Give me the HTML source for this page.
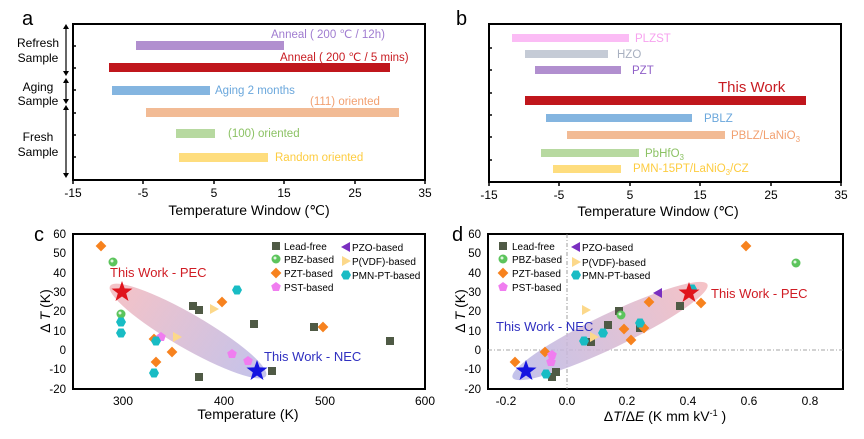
<!DOCTYPE html>
<html><head><meta charset="utf-8"><style>
body{margin:0;background:#fff}
svg{display:block;font-family:"Liberation Sans",Arial,sans-serif}
</style></head><body>
<svg width="864" height="439" viewBox="0 0 864 439" xmlns="http://www.w3.org/2000/svg">
<defs>
<linearGradient id="gc" x1="0" x2="1" y1="0" y2="0"><stop offset="0" stop-color="#f4b8bc"/><stop offset="1" stop-color="#b8b8e8"/></linearGradient>
<linearGradient id="gd" x1="0" x2="1" y1="0" y2="0"><stop offset="0" stop-color="#b8b8e8"/><stop offset="1" stop-color="#f4b8bc"/></linearGradient>
<g id="sq"><rect x="-4" y="-4" width="8" height="8" fill="#4f5a45"/></g>
<g id="ci"><circle r="4.5" fill="#5cc45c"/><circle r="1.5" cx="-1" cy="-1" fill="#dff5df"/></g>
<g id="di"><rect x="-3.8" y="-3.8" width="7.6" height="7.6" fill="#f7821e" transform="rotate(45)"/></g>
<g id="pe"><polygon points="0,-5 4.8,-1.5 3,4 -3,4 -4.8,-1.5" fill="#f07df0"/></g>
<g id="tl"><polygon points="-5,0 4,-5 4,5" fill="#7a2fc0"/></g>
<g id="tr"><polygon points="5,0 -4,-5 -4,5" fill="#fcd88a"/></g>
<g id="hx"><polygon points="-5,0 -2.5,-4.5 2.5,-4.5 5,0 2.5,4.5 -2.5,4.5" fill="#18bcc4"/></g>
<polygon id="st" points="0,-11 2.6,-3.6 10.5,-3.4 4.2,1.4 6.5,9 0,4.5 -6.5,9 -4.2,1.4 -10.5,-3.4 -2.6,-3.6"/>
</defs>

<!-- Panel a -->
<text x="22" y="25" font-size="20">a</text>
<rect x="73" y="24" width="352" height="156" fill="none" stroke="#000" stroke-width="2"/>
<g stroke="#000" stroke-width="1.2">
<line x1="66" y1="27" x2="66" y2="74"/><line x1="66" y1="80" x2="66" y2="102"/><line x1="66" y1="107" x2="66" y2="176"/>
</g>
<g fill="#000">
<polygon points="66,24 63,29 69,29"/><polygon points="66,76 63,71 69,71"/>
<polygon points="66,78 63,83 69,83"/><polygon points="66,104 63,99 69,99"/>
<polygon points="66,105 63,110 69,110"/><polygon points="66,178 63,173 69,173"/>
</g>
<g stroke="#000" stroke-width="1.5">
<line x1="73" y1="46" x2="76" y2="46"/><line x1="73" y1="68" x2="76" y2="68"/><line x1="73" y1="90" x2="76" y2="90"/><line x1="73" y1="113" x2="76" y2="113"/><line x1="73" y1="135" x2="76" y2="135"/><line x1="73" y1="157" x2="76" y2="157"/>
<line x1="73" y1="180" x2="73" y2="184"/><line x1="143" y1="180" x2="143" y2="184"/><line x1="214" y1="180" x2="214" y2="184"/><line x1="284" y1="180" x2="284" y2="184"/><line x1="355" y1="180" x2="355" y2="184"/><line x1="425" y1="180" x2="425" y2="184"/>
</g>
<g font-size="12" text-anchor="middle">
<text x="38" y="47">Refresh</text><text x="38" y="62">Sample</text>
<text x="38" y="91">Aging</text><text x="38" y="105">Sample</text>
<text x="38" y="141">Fresh</text><text x="38" y="156">Sample</text>
<text x="73" y="197">-15</text><text x="143" y="197">-5</text><text x="214" y="197">5</text><text x="284" y="197">15</text><text x="355" y="197">25</text><text x="425" y="197">35</text>
<text x="249" y="215" font-size="14">Temperature Window (℃)</text>
</g>
<rect x="136" y="41" width="148" height="9" fill="#b18fcf"/>
<rect x="109" y="63" width="281" height="9" fill="#c0161c"/>
<rect x="112" y="86" width="98" height="9" fill="#84b5e0"/>
<rect x="146" y="108" width="253" height="9" fill="#f2bb95"/>
<rect x="176" y="129" width="39" height="9" fill="#b7d9a0"/>
<rect x="179" y="153" width="89" height="9" fill="#fedd7e"/>
<g font-size="11.5">
<text x="271" y="38" fill="#a07cd0">Anneal ( 200 ℃ / 12h)</text>
<text x="280" y="61" fill="#c81c22">Anneal ( 200 ℃ / 5 mins)</text>
<text x="215" y="94" fill="#6aa7dc">Aging 2 months</text>
<text x="310" y="105" fill="#f2a070">(111) oriented</text>
<text x="228" y="137" fill="#8cc264">(100) oriented</text>
<text x="275" y="161" fill="#fdcc40">Random oriented</text>
</g>

<!-- Panel b -->
<text x="456" y="25" font-size="20">b</text>
<rect x="489" y="24" width="352" height="158" fill="none" stroke="#000" stroke-width="2"/>
<g stroke="#000" stroke-width="1.5">
<line x1="489" y1="48" x2="492" y2="48"/><line x1="489" y1="70" x2="492" y2="70"/><line x1="489" y1="93" x2="492" y2="93"/><line x1="489" y1="115" x2="492" y2="115"/><line x1="489" y1="137" x2="492" y2="137"/><line x1="489" y1="160" x2="492" y2="160"/>
<line x1="489" y1="182" x2="489" y2="186"/><line x1="559" y1="182" x2="559" y2="186"/><line x1="630" y1="182" x2="630" y2="186"/><line x1="700" y1="182" x2="700" y2="186"/><line x1="771" y1="182" x2="771" y2="186"/><line x1="841" y1="182" x2="841" y2="186"/>
</g>
<g font-size="12" text-anchor="middle">
<text x="489" y="199">-15</text><text x="559" y="199">-5</text><text x="630" y="199">5</text><text x="700" y="199">15</text><text x="771" y="199">25</text><text x="841" y="199">35</text>
<text x="658" y="216" font-size="14">Temperature Window (℃)</text>
</g>
<rect x="512" y="34" width="117" height="8" fill="#fbbcf5"/>
<rect x="525" y="50" width="83" height="8" fill="#c5cbd6"/>
<rect x="535" y="66" width="86" height="8" fill="#b18fcf"/>
<rect x="525" y="96" width="281" height="9" fill="#c0161c"/>
<rect x="546" y="114" width="146" height="8" fill="#84b5e0"/>
<rect x="567" y="131" width="158" height="8" fill="#f2bb95"/>
<rect x="541" y="149" width="98" height="8" fill="#b7d9a0"/>
<rect x="553" y="165" width="68" height="8" fill="#fedd7e"/>
<g font-size="11.5">
<text x="635" y="42" fill="#f7a2ef">PLZST</text>
<text x="617" y="58" fill="#a8b0c0">HZO</text>
<text x="632" y="74" fill="#9060c8">PZT</text>
<text x="718" y="92" fill="#c81c22" font-size="15">This Work</text>
<text x="704" y="122" fill="#6aa7dc">PBLZ</text>
<text x="731" y="139" fill="#f2a070">PBLZ/LaNiO<tspan font-size="8" dy="3">3</tspan></text>
<text x="645" y="157" fill="#8cc264">PbHfO<tspan font-size="8" dy="3">3</tspan></text>
<text x="633" y="172" fill="#fdcc40">PMN-15PT/LaNiO<tspan font-size="8" dy="3">3</tspan><tspan dy="-3">/CZ</tspan></text>
</g>

<!-- Panel c -->
<text x="34" y="241" font-size="20">c</text>
<rect x="73" y="234" width="352" height="155" fill="none" stroke="#000" stroke-width="2"/>
<g font-size="11.5" text-anchor="end">
<text x="66" y="238">60</text><text x="66" y="257">50</text><text x="66" y="277">40</text><text x="66" y="296">30</text><text x="66" y="315">20</text><text x="66" y="335">10</text><text x="66" y="354">0</text><text x="66" y="373">-10</text><text x="66" y="393">-20</text>
</g>
<g font-size="12" text-anchor="middle">
<text x="123" y="405">300</text><text x="224" y="405">400</text><text x="325" y="405">500</text><text x="425" y="405">600</text>
<text x="248" y="419" font-size="14">Temperature (K)</text>
<text transform="translate(50,311) rotate(-90)" font-size="14">Δ <tspan font-style="italic">T</tspan> (K)</text>
</g>
<ellipse cx="188" cy="331" rx="90" ry="17" transform="rotate(30 188 331)" fill="url(#gc)" opacity="0.85"/>
<use href="#sq" x="193" y="306"/><use href="#sq" x="199" y="310"/><use href="#sq" x="254" y="324"/><use href="#sq" x="314" y="327"/><use href="#sq" x="390" y="341"/><use href="#sq" x="272" y="371"/><use href="#sq" x="199" y="377"/>
<use href="#ci" x="113" y="262"/><use href="#ci" x="121" y="314"/>
<use href="#di" x="101" y="246"/><use href="#di" x="222" y="302"/><use href="#di" x="154" y="339"/><use href="#di" x="172" y="352"/><use href="#di" x="156" y="362"/><use href="#di" x="323" y="327"/>
<use href="#pe" x="161" y="337"/><use href="#pe" x="232" y="354"/><use href="#pe" x="248" y="361"/>
<use href="#tr" x="214" y="309"/><use href="#tr" x="177" y="337"/>
<use href="#hx" x="237" y="290"/><use href="#hx" x="121" y="322"/><use href="#hx" x="121" y="333"/><use href="#hx" x="156" y="341"/><use href="#hx" x="154" y="373"/>
<use href="#st" x="122" y="292" fill="#e0141c"/><use href="#st" x="257" y="371" fill="#1414e0"/>
<text x="110" y="277" font-size="13" fill="#d01c24">This Work - PEC</text>
<text x="264" y="361" font-size="13" fill="#3030c0">This Work - NEC</text>
<g font-size="10">
<use href="#sq" x="276" y="246"/><text x="284" y="250">Lead-free</text>
<use href="#ci" x="276" y="259"/><text x="284" y="263">PBZ-based</text>
<use href="#di" x="276" y="273"/><text x="284" y="277">PZT-based</text>
<use href="#pe" x="276" y="287"/><text x="284" y="291">PST-based</text>
<use href="#tl" x="346" y="247"/><text x="352" y="251">PZO-based</text>
<use href="#tr" x="346" y="261"/><text x="352" y="265">P(VDF)-based</text>
<use href="#hx" x="346" y="275"/><text x="352" y="279">PMN-PT-based</text>
</g>

<!-- Panel d -->
<text x="452" y="241" font-size="20">d</text>
<rect x="488" y="234" width="355" height="155" fill="none" stroke="#000" stroke-width="2"/>
<line x1="567" y1="234" x2="567" y2="389" stroke="#888" stroke-width="0.8" stroke-dasharray="4,2,1,2"/>
<line x1="488" y1="350" x2="843" y2="350" stroke="#888" stroke-width="0.8" stroke-dasharray="4,2,1,2"/>
<g font-size="11.5" text-anchor="end">
<text x="481" y="238">60</text><text x="481" y="257">50</text><text x="481" y="277">40</text><text x="481" y="296">30</text><text x="481" y="315">20</text><text x="481" y="335">10</text><text x="481" y="354">0</text><text x="481" y="373">-10</text><text x="481" y="393">-20</text>
</g>
<g font-size="12" text-anchor="middle">
<text x="506" y="405">-0.2</text><text x="567" y="405">0.0</text><text x="627" y="405">0.2</text><text x="688" y="405">0.4</text><text x="749" y="405">0.6</text><text x="810" y="405">0.8</text>
<text x="665" y="421" font-size="14">Δ<tspan font-style="italic">T</tspan>/Δ<tspan font-style="italic">E</tspan> (K mm kV<tspan font-size="9" dy="-5">-1</tspan><tspan dy="5"> )</tspan></text>
<text transform="translate(465,311) rotate(-90)" font-size="14">Δ <tspan font-style="italic">T</tspan> (K)</text>
</g>
<ellipse cx="610" cy="331" rx="108" ry="17" transform="rotate(-25.6 610 331)" fill="url(#gd)" opacity="0.85"/>
<use href="#sq" x="619" y="311"/><use href="#sq" x="608" y="325"/><use href="#sq" x="640" y="328"/><use href="#sq" x="680" y="306"/><use href="#sq" x="591" y="342"/><use href="#sq" x="556" y="372"/><use href="#sq" x="552" y="377"/>
<use href="#ci" x="796" y="263"/><use href="#ci" x="621" y="315"/>
<use href="#di" x="746" y="246"/><use href="#di" x="649" y="302"/><use href="#di" x="701" y="303"/><use href="#di" x="624" y="329"/><use href="#di" x="644" y="328"/><use href="#di" x="631" y="340"/><use href="#di" x="545" y="352"/><use href="#di" x="515" y="362"/>
<use href="#pe" x="552" y="355"/><use href="#pe" x="551" y="362"/>
<use href="#tl" x="658" y="293"/>
<use href="#tr" x="586" y="310"/><use href="#tr" x="594" y="337"/>
<use href="#hx" x="584" y="341"/><use href="#hx" x="603" y="333"/><use href="#hx" x="640" y="323"/><use href="#hx" x="546" y="374"/><use href="#hx" x="692" y="289"/>
<use href="#st" x="689" y="293" fill="#e0141c"/><use href="#st" x="526" y="371" fill="#1414e0"/>
<text x="711" y="298" font-size="13" fill="#d01c24">This Work - PEC</text>
<text x="496" y="331" font-size="13" fill="#3030c0">This Work - NEC</text>
<g font-size="10">
<use href="#sq" x="503" y="246"/><text x="512" y="250">Lead-free</text>
<use href="#ci" x="503" y="259"/><text x="512" y="263">PBZ-based</text>
<use href="#di" x="503" y="273"/><text x="512" y="277">PZT-based</text>
<use href="#pe" x="503" y="287"/><text x="512" y="291">PST-based</text>
<use href="#tl" x="576" y="247"/><text x="582" y="251">PZO-based</text>
<use href="#tr" x="576" y="262"/><text x="582" y="266">P(VDF)-based</text>
<use href="#hx" x="576" y="275"/><text x="582" y="279">PMN-PT-based</text>
</g>
</svg>
</body></html>
